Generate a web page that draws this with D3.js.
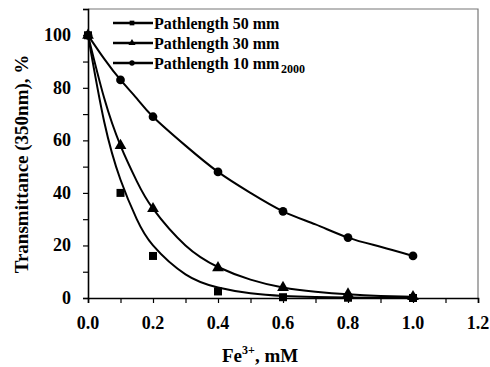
<!DOCTYPE html>
<html>
<head>
<meta charset="utf-8">
<script src="https://cdn.jsdelivr.net/npm/d3@7"></script>
<style>
  body { margin: 0; background: #fff; }
</style>
</head>
<body>
<div id="chart"></div>
<script>
// measured points
var conc = [0, 0.1, 0.2, 0.4, 0.6, 0.8, 1.0];
var t50 = [100, 40, 16, 2.5, 0.3, 0.1, 0];
var t30 = [100, 58, 34, 11.5, 4, 1.5, 0.5];
var t10 = [100, 83, 69, 48, 33, 23, 16];

// fitted curves
var fitX = [0, 0.05, 0.1, 0.15, 0.2, 0.3, 0.4, 0.5, 0.6, 0.7, 0.8, 0.9, 1.0];
var fit50 = [100, 67, 45, 30, 20, 9, 4, 1.8, 0.8, 0.4, 0.2, 0.1, 0];
var fit30 = [100, 76, 58, 44.5, 34, 20, 11.8, 7, 4, 2.4, 1.4, 0.8, 0.5];
var fit10 = [100, 91, 83, 76, 69, 58, 48, 40, 33, 28, 23, 19.5, 16];

var xTicks = [0, 0.2, 0.4, 0.6, 0.8, 1.0, 1.2];
var yTicks = [0, 20, 40, 60, 80, 100];
var legendLabels = ['Pathlength 50 mm', 'Pathlength 30 mm', 'Pathlength 10 mm'];

var width = 490, height = 367;
var margin = { left: 88, right: 12, top: 9, bottom: 69 };
var serif = "'Liberation Serif', 'Times New Roman', serif";

var svg = d3.select('#chart').append('svg')
  .attr('width', width)
  .attr('height', height);

var x = d3.scaleLinear().domain([0, 1.2]).range([margin.left, width - margin.right]);
var y = d3.scaleLinear().domain([0, 110]).range([height - margin.bottom, margin.top]);

function label(sel, size) {
  return sel.attr('font-family', serif).attr('font-weight', 'bold')
    .attr('font-size', size).attr('fill', '#000');
}

// frame (top/right)
svg.append('path')
  .attr('d', 'M' + x(0) + ',' + y(110) + 'H' + x(1.2) + 'V' + y(0))
  .attr('fill', 'none').attr('stroke', '#777').attr('stroke-width', 1.2);

// x axis
var xAxis = svg.append('g')
  .attr('transform', 'translate(0,' + y(0) + ')')
  .call(d3.axisBottom(x).tickValues(d3.range(0, 1.21, 0.1)).tickSize(5).tickFormat(''));
xAxis.select('.domain').attr('stroke-width', 1.6);
xAxis.selectAll('.tick line').attr('stroke-width', 1.2);
svg.append('g').selectAll('text').data(xTicks).enter().append('text')
  .attr('x', function(d) { return x(d); })
  .attr('y', y(0) + 31)
  .attr('text-anchor', 'middle')
  .call(label, 18)
  .text(function(d) { return d3.format('.1f')(d); });

// y axis
var yAxis = svg.append('g')
  .attr('transform', 'translate(' + x(0) + ',0)')
  .call(d3.axisLeft(y).tickValues(d3.range(0, 111, 10)).tickSize(5).tickFormat(''));
yAxis.select('.domain').attr('stroke-width', 1.6);
yAxis.selectAll('.tick line').attr('stroke-width', 1.2);
svg.append('g').selectAll('text').data(yTicks).enter().append('text')
  .attr('x', x(0) - 17)
  .attr('y', function(d) { return y(d) + 6; })
  .attr('text-anchor', 'end')
  .call(label, 18)
  .text(function(d) { return d; });

// axis titles
var xt = svg.append('text')
  .attr('x', 222).attr('y', 362)
  .call(label, 19);
xt.append('tspan').text('Fe');
xt.append('tspan').attr('dy', -8).attr('font-size', 12).text('3+');
xt.append('tspan').attr('dy', 8).text(', mM');

svg.append('text')
  .attr('transform', 'translate(28,164) rotate(-90)')
  .attr('text-anchor', 'middle')
  .call(label, 19)
  .text('Transmittance (350nm), %');

// curves
var line = d3.line()
  .x(function(d) { return x(d[0]); })
  .y(function(d) { return y(d[1]); })
  .curve(d3.curveNatural);

[fit50, fit30, fit10].forEach(function(f) {
  svg.append('path')
    .datum(fitX.map(function(v, i) { return [v, f[i]]; }))
    .attr('d', line)
    .attr('fill', 'none')
    .attr('stroke', '#000')
    .attr('stroke-width', 2);
});

// markers
var symbols = [d3.symbolSquare, d3.symbolTriangle, d3.symbolCircle];
var sizes = [64, 60, 60];
[t50, t30, t10].forEach(function(s, k) {
  svg.append('g').selectAll('path')
    .data(conc.map(function(c, i) { return [c, s[i]]; }))
    .enter().append('path')
    .attr('transform', function(d) { return 'translate(' + x(d[0]) + ',' + y(d[1]) + ')'; })
    .attr('d', d3.symbol().type(symbols[k]).size(sizes[k]))
    .attr('fill', '#000');
});

// legend
var legY = [23, 43, 63];
legendLabels.forEach(function(lab, k) {
  var g = svg.append('g').attr('transform', 'translate(0,' + legY[k] + ')');
  g.append('line').attr('x1', 113).attr('x2', 153)
    .attr('stroke', '#000').attr('stroke-width', 2.4);
  g.append('path').attr('transform', 'translate(132,0)')
    .attr('d', d3.symbol().type(symbols[k]).size(22)).attr('fill', '#000');
  g.append('text').attr('x', 154).attr('y', 5.5).call(label, 16).text(lab);
  if (k === 2) {
    g.append('text').attr('x', 281).attr('y', 10).call(label, 12).text('2000');
  }
});
</script>
</body>
</html>
